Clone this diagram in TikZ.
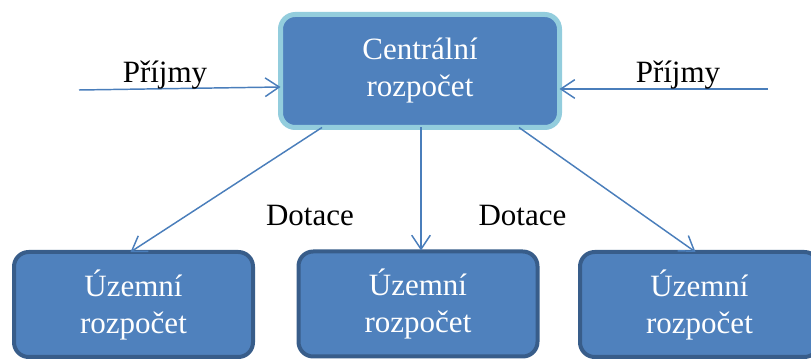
\documentclass[tikz,border=0pt]{standalone}
\usepackage{fontspec}
\setmainfont{Liberation Serif}
\usetikzlibrary{arrows.meta,calc}

\definecolor{boxfill}{RGB}{79,129,189}
\definecolor{centraledge}{RGB}{147,205,221}
\definecolor{localedge}{RGB}{56,93,138}
\definecolor{flowline}{RGB}{74,126,187}

\tikzset{every picture/.style={line width=0.75pt}}

\begin{document}
\begin{tikzpicture}[x=0.75pt,y=0.75pt,yscale=-1,xscale=1,
  budget/.style={rectangle,rounded corners=11pt,fill=boxfill,text=white,align=center,
    outer sep=0pt,inner sep=0pt,font=\fontsize{23.25}{27.75}\selectfont},
  centralbox/.style={budget,draw=centraledge,line width=3.75pt,minimum width=209.25pt,minimum height=84.75pt},
  localbox/.style={budget,draw=localedge,line width=3pt,minimum width=179.25pt,minimum height=78.75pt},
  flow/.style={draw=flowline,line width=1.1pt,-{Straight Barb[length=10.5pt,width=14pt]}},
  label/.style={anchor=base,inner sep=0pt,font=\fontsize{23.25}{27.75}\selectfont}]
\useasboundingbox (0,0) rectangle (811,359);

%Shape: Rounded Rect [central]
\node[centralbox] (central) at (420,71) {Centrální\\rozpočet};
%Shape: Rounded Rect [local budgets]
\node[localbox] (terr1) at (133.5,304.5) {Územní\\rozpočet};
\node[localbox] (terr2) at (418,304) {Územní\\rozpočet};
\node[localbox] (terr3) at (699.5,304.5) {Územní\\rozpočet};

%Straight Lines [incoming revenue]
\coordinate (inleft) at (79,90);
\coordinate (inright) at (768,89);
\draw[flow] (inleft) -- ($(central.west)+(0,16)$);
\draw[flow] (inright) -- ($(central.east)+(0,18)$);
%Straight Lines [grants]
\draw[flow] ($(central.south)+(-98,0)$) -- ($(terr1.north)+(-3,0)$);
\draw[flow] ($(central.south)+(1,0)$) -- ($(terr2.north)+(3,-1)$);
\draw[flow] ($(central.south)+(99,0)$) -- ($(terr3.north)+(-4,0)$);

% Text Node
\node[label] (revleft) at (165,83) {Příjmy};
% Text Node
\node[label] (revright) at (678,83) {Příjmy};
% Text Node
\node[label] (grantleft) at (310,226) {Dotace};
% Text Node
\node[label] (grantright) at (522.5,226) {Dotace};

\end{tikzpicture}
\end{document}
